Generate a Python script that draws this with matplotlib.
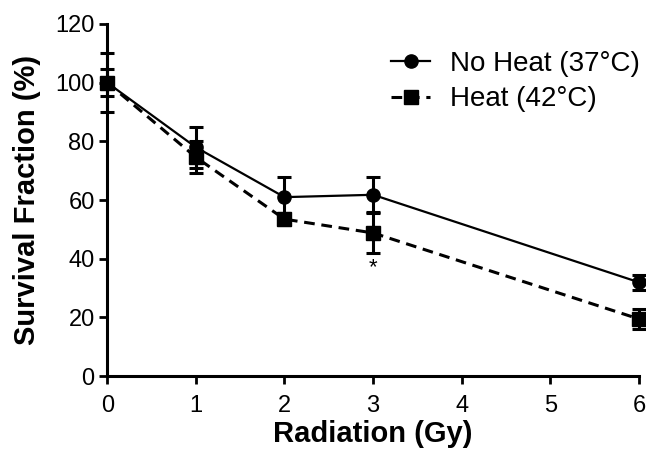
import matplotlib.pyplot as plt
from matplotlib.lines import Line2D

plt.rcParams['font.family'] = ['Liberation Sans', 'DejaVu Sans']

dose = [0, 1, 2, 3, 6]
no_heat = [100, 78, 61, 61.8, 32]
no_heat_err = [10, 7, 7, 6, 2.5]
heat = [100, 74.6, 53.5, 48.8, 19.5]
heat_err = [4.5, 5.5, 2, 6.8, 3.5]
labels = ['No Heat (37°C)', 'Heat (42°C)']

dash = (0, (3.5, 2.2))

fig = plt.figure(figsize=(6.46, 4.61), dpi=100)
ax = fig.add_axes([0.166, 0.184, 0.823, 0.764])

ax.errorbar(dose, no_heat, yerr=no_heat_err, color='black', marker='o', ms=9.5,
            lw=1.6, elinewidth=2.2, capsize=5, capthick=2.2, ls='-',
            clip_on=False, zorder=3)
ax.errorbar(dose, heat, yerr=heat_err, color='black', marker='s', ms=9.5,
            lw=2.2, elinewidth=2.2, capsize=5, capthick=2.2, ls=dash,
            clip_on=False, zorder=3)

ax.text(3, 37, '*', ha='center', va='center', fontsize=16)

ax.set_xlim(0, 6)
ax.set_ylim(0, 120)
ax.set_xticks(range(7))
ax.set_yticks(range(0, 121, 20))
for s in ['top', 'right']:
    ax.spines[s].set_visible(False)
for s in ['left', 'bottom']:
    ax.spines[s].set_linewidth(2.2)
ax.tick_params(width=2, length=6, labelsize=17)
ax.tick_params(axis='x', pad=7.5)
ax.tick_params(axis='y', pad=3)

ax.set_xlabel('Radiation (Gy)', fontsize=21, fontweight='bold', labelpad=2.5)
ax.set_ylabel('Survival Fraction (%)', fontsize=21, fontweight='bold', labelpad=10)

handles = [Line2D([], [], color='black', lw=1.6, marker='o', ms=9.5),
           Line2D([], [], color='black', lw=2.2, ls=dash, marker='s', ms=9.5)]
ax.legend(handles, labels, loc='upper left', bbox_to_anchor=(0.567, 0.944),
          bbox_transform=fig.transFigure, frameon=False, fontsize=20,
          handlelength=1.4, handletextpad=0.7, labelspacing=0.34)

plt.savefig('out.png', dpi=100)
